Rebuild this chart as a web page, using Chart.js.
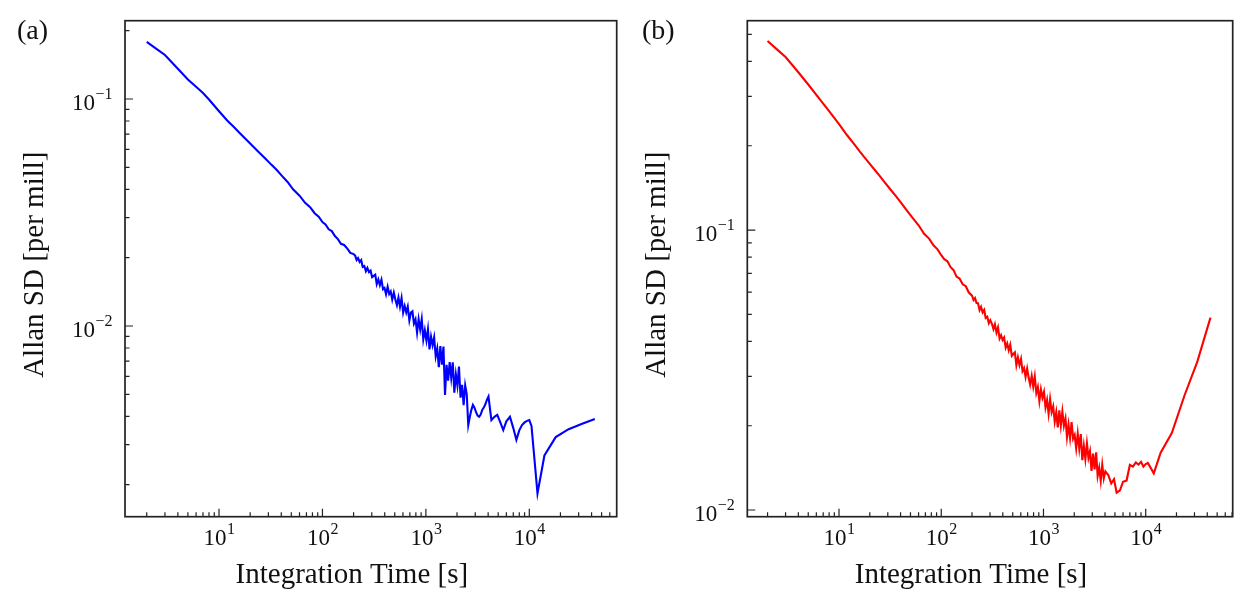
<!DOCTYPE html>
<html>
<head>
<meta charset="utf-8">
<script src="https://cdn.jsdelivr.net/npm/chart.js@4.4.1/dist/chart.umd.min.js"></script>
<style>
  body { margin: 0; background: #fff; }
  .panel { position: absolute; top: 0; width: 629px; height: 611px; }
</style>
</head>
<body>
<div class="panel" style="left:0"><canvas id="chartA" width="629" height="611"></canvas></div>
<div class="panel" style="left:629px"><canvas id="chartB" width="629" height="611"></canvas></div>
<script>
// integration times [s], shared by both panels
const tau = [
  2, 2.5, 3, 4, 5, 6, 7, 8, 10, 12, 14, 16, 18, 20, 24, 28, 32, 36, 40, 46, 52, 60, 68, 76, 84, 92, 100,
  107, 115, 123, 132, 141, 151, 162, 174, 186, 200,
  207, 214, 221, 229, 237, 245, 254, 263, 272, 282,
  292, 302, 313, 324, 335, 347, 359, 372, 385, 398,
  412, 427, 442, 457, 473, 490, 507, 525, 543, 562,
  582, 603, 624, 646, 668, 692, 716, 741, 767, 794,
  822, 851, 881, 912, 944, 977, 1012, 1047, 1084, 1122,
  1161, 1202, 1245, 1288, 1334, 1380, 1429, 1479, 1531, 1585,
  1641, 1698, 1758, 1820, 1884, 1950, 2018, 2089, 2163, 2239,
  2317, 2399, 2483, 2570, 2661, 2754, 2851, 2951, 3055, 3162,
  3273, 3388, 3508, 3631, 3758, 3890, 4030,
  4300, 4600, 4900, 5200, 5600, 6000, 6500, 7000, 7500, 8000, 8500, 9000, 9500, 10000, 10500,
  12000, 14000, 18000, 24000, 32000, 43000
];

// panel (a), Allan SD [per mill]
const allanA = [
  0.1786, 0.1660, 0.1563, 0.1358, 0.1219, 0.1132, 0.1062, 0.0995, 0.0883, 0.0804, 0.0750, 0.0705,
  0.0668, 0.0637, 0.0586, 0.0547, 0.0514, 0.0488, 0.0462, 0.0431, 0.0400, 0.0375, 0.0349, 0.0334,
  0.0314, 0.0303, 0.0287,
  0.0280, 0.02667, 0.02618, 0.02489, 0.02415, 0.02301, 0.02275, 0.02193, 0.02099, 0.02075,
  0.02042, 0.01954, 0.01991, 0.01914, 0.01950, 0.01820, 0.01837, 0.01742, 0.01803, 0.01726,
  0.01754, 0.01641, 0.01663, 0.01683, 0.01528, 0.01603, 0.01514, 0.01600, 0.01452, 0.01472,
  0.01380, 0.01489, 0.01384, 0.01419, 0.01306, 0.01403, 0.01309, 0.01236, 0.01334, 0.01216,
  0.01327, 0.01146, 0.01225, 0.01148, 0.01216, 0.01059, 0.01146, 0.01161, 0.01026, 0.01069,
  0.00935, 0.01072, 0.00966, 0.01072, 0.00873, 0.00957, 0.00863, 0.00968, 0.00789, 0.00897,
  0.00824, 0.00891, 0.00736, 0.00796, 0.00658, 0.00815, 0.00675, 0.00811, 0.00497, 0.00675,
  0.00575, 0.00693, 0.00592, 0.00692, 0.00508, 0.00612, 0.00547, 0.00662, 0.00483, 0.00550,
  0.00448, 0.00548, 0.00501, 0.00366, 0.00398, 0.00427, 0.00449, 0.00437, 0.00417, 0.00403,
  0.00398, 0.00407, 0.00427, 0.00437, 0.00452, 0.00473, 0.00489,
  0.00385, 0.00398, 0.00406, 0.00380, 0.00348, 0.00380, 0.00398, 0.00355, 0.00315, 0.00347, 0.00366,
  0.00376, 0.00382, 0.00385, 0.00363, 0.00183, 0.00269, 0.00324, 0.00351, 0.00370, 0.00389
];

// panel (b), Allan SD [per mill]
const allanB = [
  0.473, 0.440, 0.415, 0.366, 0.331, 0.304, 0.283, 0.266, 0.239, 0.218, 0.203, 0.1905, 0.1807,
  0.1722, 0.1589, 0.1479, 0.1393, 0.1321, 0.1259, 0.1175, 0.1109, 0.1040, 0.0970, 0.0932, 0.0882,
  0.0853, 0.0813,
  0.0787, 0.0773, 0.0738, 0.0719, 0.0682, 0.0671, 0.0640, 0.0630, 0.0598, 0.0583,
  0.05623, 0.05715, 0.05495, 0.05470, 0.05176, 0.05321, 0.05082, 0.05188, 0.04853, 0.04898,
  0.04645, 0.04764, 0.04624, 0.04426, 0.04603, 0.04305, 0.04487, 0.04093, 0.04207, 0.04046,
  0.04130, 0.03802, 0.03936, 0.03724, 0.03890, 0.03556, 0.03606, 0.03656, 0.03289, 0.03508,
  0.03296, 0.03467, 0.03133, 0.03214, 0.02985, 0.03199, 0.02972, 0.02805, 0.03013, 0.02761,
  0.02999, 0.02618, 0.02748, 0.02449, 0.02698, 0.02518, 0.02642, 0.02323, 0.02472, 0.02208,
  0.02489, 0.02239, 0.02344, 0.02070, 0.02234, 0.01972, 0.02270, 0.02004, 0.02249, 0.02000,
  0.02123, 0.01820, 0.02018, 0.01807, 0.02061, 0.01799, 0.01854, 0.01660, 0.01875, 0.01660,
  0.01866, 0.01507, 0.01694, 0.01521, 0.01730, 0.01535, 0.01622, 0.01380, 0.01589, 0.01396,
  0.01607, 0.01324, 0.01416, 0.01271, 0.01449, 0.01297, 0.01374,
  0.01334, 0.01245, 0.01288, 0.01153, 0.01175, 0.01262, 0.01274, 0.01449, 0.01429, 0.01479, 0.01452,
  0.01486, 0.01429, 0.01459, 0.01472, 0.01352, 0.01603, 0.01884, 0.02570, 0.03388, 0.04864
];

// major ticks and their exponent labels
const xMajor = [10, 100, 1000, 10000];
const xMajorExp = ["1", "2", "3", "4"];
const yMajor = [0.01, 0.1];
const yMajorExp = ["\u22122", "\u22121"];

const xTitle = "Integration Time [s]";
const yTitle = "Allan SD [per mill]";

const serif = "'Liberation Serif', 'Times New Roman', serif";
const ink = "#111";

function minorTicks(min, max) {
  const out = [];
  for (let e = Math.floor(Math.log10(min)); e <= Math.ceil(Math.log10(max)); e++) {
    for (let m = 2; m <= 9; m++) {
      const v = m * Math.pow(10, e);
      if (v > min && v < max) out.push(v);
    }
  }
  return out;
}

// draw "10" with a raised exponent, anchored by align
function powerLabel(ctx, exp, x, y, align) {
  ctx.font = "23px " + serif;
  const wBase = ctx.measureText("10").width;
  ctx.font = "16px " + serif;
  const wExp = ctx.measureText(exp).width;
  const w = wBase + wExp;
  let left = x;
  if (align === "center") left = x - w / 2;
  if (align === "right") left = x - w;
  ctx.textAlign = "left";
  ctx.textBaseline = "alphabetic";
  ctx.font = "23px " + serif;
  ctx.fillText("10", left, y);
  ctx.font = "16px " + serif;
  ctx.fillText(exp, left + wBase + 0.5, y - 11);
}

// matplotlib-like frame with inward ticks on the left and bottom
const axesBox = {
  id: "axesBox",
  afterDraw(chart, args, opts) {
    const { ctx, chartArea: a } = chart;
    const xs = chart.scales.x;
    const ys = chart.scales.y;
    ctx.save();
    ctx.fillStyle = ink;
    ctx.strokeStyle = "#222";

    ctx.lineWidth = 1.2;
    ctx.beginPath();
    xMajor.forEach((v) => {
      const px = xs.getPixelForValue(v);
      ctx.moveTo(px, a.bottom);
      ctx.lineTo(px, a.bottom - 8);
    });
    minorTicks(xs.min, xs.max).forEach((v) => {
      const px = xs.getPixelForValue(v);
      ctx.moveTo(px, a.bottom);
      ctx.lineTo(px, a.bottom - 4.5);
    });
    yMajor.forEach((v) => {
      const py = ys.getPixelForValue(v);
      ctx.moveTo(a.left, py);
      ctx.lineTo(a.left + 8, py);
    });
    minorTicks(ys.min, ys.max).forEach((v) => {
      const py = ys.getPixelForValue(v);
      ctx.moveTo(a.left, py);
      ctx.lineTo(a.left + 4.5, py);
    });
    ctx.stroke();

    ctx.lineWidth = 1.7;
    ctx.strokeRect(a.left, a.top, a.right - a.left, a.bottom - a.top);

    xMajor.forEach((v, i) => {
      powerLabel(ctx, xMajorExp[i], xs.getPixelForValue(v), a.bottom + 28.5, "center");
    });
    yMajor.forEach((v, i) => {
      powerLabel(ctx, yMajorExp[i], a.left - 13, ys.getPixelForValue(v) + 11, "right");
    });

    ctx.font = "29px " + serif;
    ctx.textAlign = "center";
    ctx.textBaseline = "alphabetic";
    ctx.fillText(xTitle, (a.left + a.right) / 2 - 19, a.bottom + 66.5);

    ctx.save();
    ctx.translate(a.left - 82, (a.top + a.bottom) / 2 - 4);
    ctx.rotate(-Math.PI / 2);
    ctx.fillText(yTitle, 0, 0);
    ctx.restore();

    ctx.font = "28px " + serif;
    ctx.textAlign = "left";
    ctx.fillText(opts.panel, opts.panelX, 39);
    ctx.restore();
  }
};

function makeChart(id, values, color, yMin, yMax, xMin, xMax, pad, panel, panelX) {
  return new Chart(document.getElementById(id), {
    type: "line",
    data: {
      datasets: [{
        data: tau.map((t, i) => ({ x: t, y: values[i] })),
        borderColor: color,
        borderWidth: 2.1,
        pointRadius: 0,
        tension: 0,
        fill: false
      }]
    },
    options: {
      responsive: false,
      animation: false,
      layout: { padding: pad },
      plugins: {
        legend: { display: false },
        tooltip: { enabled: false },
        axesBox: { panel: panel, panelX: panelX }
      },
      scales: {
        x: { type: "logarithmic", min: xMin, max: xMax, display: false },
        y: { type: "logarithmic", min: yMin, max: yMax, display: false }
      }
    },
    plugins: [axesBox]
  });
}

makeChart("chartA", allanA, "#0000ff", 0.001445, 0.2213, 1.233, 69980,
  { left: 125, right: 12.3, top: 20.7, bottom: 94.3 }, "(a)", 17);
makeChart("chartB", allanB, "#ff0000", 0.009465, 0.5593, 1.267, 70960,
  { left: 118.3, right: 25.3, top: 20.7, bottom: 94.3 }, "(b)", 13);
</script>
</body>
</html>
